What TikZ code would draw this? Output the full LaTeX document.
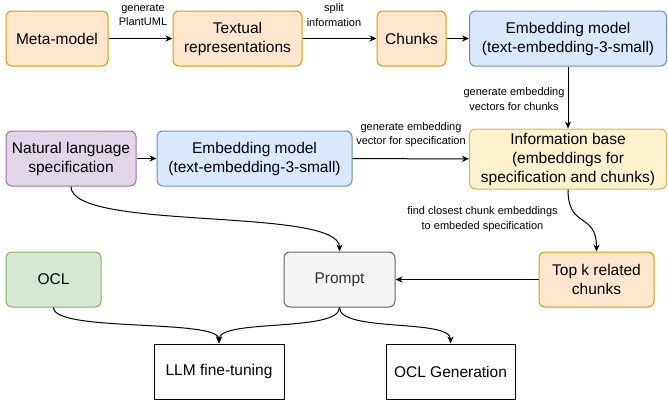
\documentclass[tikz,border=0pt]{standalone}
\usepackage{fontspec}
\setmainfont{Liberation Sans}
\usetikzlibrary{arrows.meta}

\definecolor{orfill}{HTML}{FFE6CC}
\definecolor{ordraw}{HTML}{D79B00}
\definecolor{blfill}{HTML}{DAE8FC}
\definecolor{bldraw}{HTML}{6C8EBF}
\definecolor{pufill}{HTML}{E1D5E7}
\definecolor{pudraw}{HTML}{9673A6}
\definecolor{yefill}{HTML}{FFF2CC}
\definecolor{yedraw}{HTML}{D6B656}
\definecolor{grfill}{HTML}{D5E8D4}
\definecolor{grdraw}{HTML}{82B366}
\definecolor{gyfill}{HTML}{F5F5F5}
\definecolor{gydraw}{HTML}{666666}
\definecolor{gytext}{HTML}{333333}

\tikzset{
  box/.style={draw, line width=1pt, rounded corners=6pt, align=center, inner sep=0pt,
    minimum height=55pt, font=\fontsize{15.5}{19}\selectfont},
  orbox/.style={box, fill=orfill, draw=ordraw},
  blbox/.style={box, fill=blfill, draw=bldraw},
  pubox/.style={box, fill=pufill, draw=pudraw},
  yebox/.style={box, fill=yefill, draw=yedraw},
  grbox/.style={box, fill=grfill, draw=grdraw},
  gybox/.style={box, fill=gyfill, draw=gydraw, text=gytext},
  plainbox/.style={box, rounded corners=0pt},
  lbl/.style={align=center, inner sep=0pt, font=\fontsize{11}{14.5}\selectfont},
  flow/.style={line width=1pt, -{Stealth[length=7pt,width=6pt]}}
}

\begin{document}
\begin{tikzpicture}[x=1pt,y=-1pt]
\useasboundingbox (0,0) rectangle (668,405);

%TOP ROW
\node[orbox, minimum width=102pt] (meta) at (57,38.5) {Meta-model};
\node[orbox, minimum width=129pt] (textual) at (237.5,38.5) {Textual\\representations};
\node[orbox, minimum width=69pt] (chunks) at (411.5,38.5) {Chunks};
\node[blbox, minimum width=197pt] (embchunk) at (568,38.5) {Embedding model\\(text-embedding-3-small)};

\draw[flow] (meta) -- (textual);
\node[lbl] (lblplant) at (143,15) {generate\\PlantUML};
\draw[flow] (textual) -- (chunks);
\node[lbl] (lblsplit) at (334,15) {split\\information};
\draw[flow] (chunks) -- (embchunk);

%MIDDLE ROW
\node[pubox, minimum width=130pt] (natlang) at (71,158.5) {Natural language\\specification};
\node[blbox, minimum width=195pt] (embspec) at (254.5,158.5) {Embedding model\\(text-embedding-3-small)};
\node[yebox, minimum width=197pt, minimum height=60pt] (infobase) at (568,159) {Information base\\(embeddings for\\specification and chunks)};

\draw[flow] (embchunk) -- (infobase);
\node[lbl] (lblvectors) at (514,99) {generate embedding\\vectors for chunks};
\draw[flow] (natlang) -- (embspec);
\draw[flow] (embspec) -- (infobase);
\node[lbl] (lblvector) at (411,134.5) {generate embedding\\vector for specification};

%BOTTOM ROWS
\node[grbox, minimum width=95pt] (ocl) at (53.5,279.5) {OCL};
\node[gybox, minimum width=111pt] (prompt) at (339.5,279.5) {Prompt};
\node[orbox, minimum width=115pt] (topk) at (596.5,279.5) {Top k related\\chunks};
\node[plainbox, minimum width=130pt] (llm) at (219,371.5) {LLM fine-tuning};
\node[plainbox, minimum width=129pt] (oclgen) at (450.5,371.5) {OCL Generation};

\draw[flow] (infobase.south) .. controls +(0,40) and +(0,-40) .. (topk.north);
\node[lbl] (lblclosest) at (482.5,219) {find closest chunk embeddings\\to embeded specification};
\draw[flow] (topk) -- (prompt);
\draw[flow] (natlang.south) .. controls +(0,45) and +(0,-45) .. (prompt.north);
\draw[flow] (ocl.south) .. controls +(0,25) and +(0,-25) .. (llm.north);
\draw[flow] (prompt.south) .. controls +(0,25) and +(0,-25) .. (llm.north);
\draw[flow] (prompt.south) .. controls +(0,25) and +(0,-25) .. (oclgen.north);
\end{tikzpicture}
\end{document}
